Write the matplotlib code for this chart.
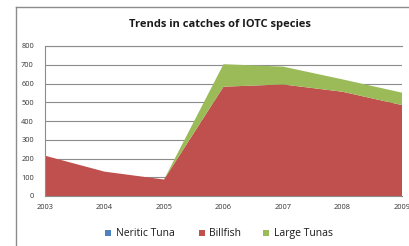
import matplotlib
matplotlib.use("Agg")
import matplotlib.pyplot as plt
from matplotlib.lines import Line2D
from matplotlib.patches import Rectangle

years = [2003, 2004, 2005, 2006, 2007, 2008, 2009]
neritic_tuna = [0, 0, 0, 0, 0, 0, 0]
billfish = [215, 130, 88, 583, 595, 556, 485]
large_tunas = [0, 0, 0, 120, 95, 66, 66]
series_names = ["Neritic Tuna", "Billfish", "Large Tunas"]
colors = ["#4F81BD", "#C0504D", "#9BBB59"]
yticks = [0, 100, 200, 300, 400, 500, 600, 700, 800]

plt.rcParams['font.family'] = ['Open Sans', 'DejaVu Sans']

W, H = 409, 246
fig = plt.figure(figsize=(W/100, H/100), dpi=100)
ax = fig.add_axes([45/W, 50/H, (402-45)/W, 150/H])

ax.stackplot(years, neritic_tuna, billfish, large_tunas, colors=colors, linewidth=0,
             labels=series_names)

ax.set_xlim(years[0], years[-1])
ax.set_ylim(0, 800)
ax.set_yticks(yticks)
ax.set_xticks(years)
ax.set_xticklabels([str(y) for y in years])
ax.tick_params(axis='both', labelsize=5.3, length=0, colors='#333333')
ax.tick_params(axis='x', pad=6)
ax.tick_params(axis='y', pad=8)
ax.grid(axis='y', color='#8c8c8c', linewidth=0.8)
ax.set_axisbelow(True)
for s in ['top', 'right']:
    ax.spines[s].set_visible(False)
ax.spines['left'].set_color('#8c8c8c')
ax.spines['bottom'].set_color('#8c8c8c')
ax.spines['left'].set_linewidth(0.8)
ax.spines['bottom'].set_linewidth(0.8)
ax.axhline(800, color='#8c8c8c', linewidth=0.8, clip_on=False)

fig.text(220/W, 1 - 25/H, "Trends in catches of IOTC species", ha='center', va='center',
         fontsize=8, fontweight='bold', color='#1a1a1a')

# legend (manual, baseline aligned)
legend_x = [105, 199, 263]
sq = 6
yc = 232.5
for x0, name, c in zip(legend_x, series_names, colors):
    fig.add_artist(Rectangle((x0/W, 1 - (yc + sq/2)/H), sq/W, sq/H, facecolor=c,
                             edgecolor='none', transform=fig.transFigure))
    fig.text((x0 + sq + 4.5)/W, 1 - (yc + 3.2)/H, name, ha='left', va='baseline',
             fontsize=7.5, color='#1a1a1a')

fig.add_artist(Line2D([16/W, 16/W], [0, 1 - 7/H], color='#8c8c8c', linewidth=1.0, transform=fig.transFigure))
fig.add_artist(Line2D([16/W, 1], [1 - 7/H, 1 - 7/H], color='#8c8c8c', linewidth=1.0, transform=fig.transFigure))

fig.savefig("out.png", dpi=100)
